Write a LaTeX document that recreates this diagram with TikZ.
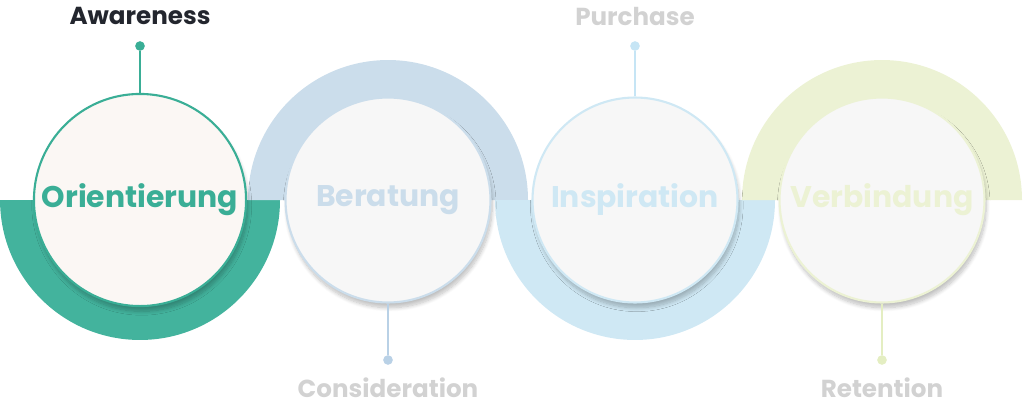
\documentclass[tikz,border=0pt]{standalone}
\usepackage{fontspec}
\setmainfont{Poppins}
\usetikzlibrary{positioning, shadows.blur}
\definecolor{tealring}{HTML}{43B39D}
\definecolor{tealtext}{HTML}{3AAE96}
\definecolor{bluering}{HTML}{CBDDEB}
\definecolor{bluetext}{HTML}{B9D1E6}
\definecolor{skyring}{HTML}{CFE8F4}
\definecolor{skytext}{HTML}{C6E5F5}
\definecolor{greenring}{HTML}{ECF2D4}
\definecolor{greentext}{HTML}{E4EEC2}
\definecolor{graytext}{HTML}{D2D2D2}
\definecolor{darktext}{HTML}{23262E}
\def\circsize{4.1cm}
\def\outerr{2.8cm}
\def\innerr{2.06cm}
\def\lowringpath{++(140,0) arc[start angle=0, end angle=-180, radius=\outerr]
	-- ++(37,0) arc[start angle=180, end angle=360, radius=\innerr] -- cycle}
\def\highringpath{++(140,0) arc[start angle=0, end angle=180, radius=\outerr]
	-- ++(37,0) arc[start angle=180, end angle=0, radius=\innerr] -- cycle}
\tikzset{
	% stage circles
	stage/.style={
		circle,
		draw=#1,
		line width=1.2pt,
		fill=white!97!black,
		minimum size=\circsize,
		font=\fontsize{17}{20}\selectfont\bfseries,
		text=#1,
		blur shadow={shadow blur steps=10, shadow xshift=1pt, shadow yshift=-3pt, shadow opacity=25},
	},
	% funnel labels
	phase/.style={
		font=\fontsize{14}{16}\selectfont\bfseries,
		text=#1,
	},
	dot/.style={
		circle,
		fill=#1,
		inner sep=0,
		minimum size=5.5pt,
	},
	stem/.style={
		draw=#1,
		line width=1pt,
	},
}
\begin{document}
\begin{tikzpicture}[x=0.02cm, y=-0.02cm]
	\useasboundingbox (0,0) rectangle (1024,419);
	% Rings
	\fill[tealring] (140,200) \lowringpath;
	\fill[bluering] (388,200) \highringpath;
	\fill[skyring] (635,200) \lowringpath;
	\fill[greenring] (882,200) \highringpath;

	% Stages
	\node[stage=tealtext, fill=white!94!brown] (orientierung) at (140,200) {Orientierung};
	\node[stage=bluering] (beratung) at (388,200) {Beratung};
	\node[stage=skyring] (inspiration) at (635,200) {Inspiration};
	\node[stage=greenring] (verbindung) at (882,200) {Verbindung};

	% Phases
	\node[phase=darktext] (awareness) at (140,16) {Awareness};
	\node[dot=tealtext] (awareness_dot) at (140,46) {};
	\draw[stem=tealtext] (awareness_dot) -- (orientierung);

	\node[phase=graytext] (consideration) at (388,388) {Consideration};
	\node[dot=bluetext] (consideration_dot) at (388,360) {};
	\draw[stem=bluetext] (consideration_dot) -- (beratung);

	\node[phase=graytext] (purchase) at (635,16) {Purchase};
	\node[dot=skytext] (purchase_dot) at (635,46) {};
	\draw[stem=skytext] (purchase_dot) -- (inspiration);

	\node[phase=graytext] (retention) at (882,388) {Retention};
	\node[dot=greentext] (retention_dot) at (882,360) {};
	\draw[stem=greentext] (retention_dot) -- (verbindung);
\end{tikzpicture}
\end{document}
